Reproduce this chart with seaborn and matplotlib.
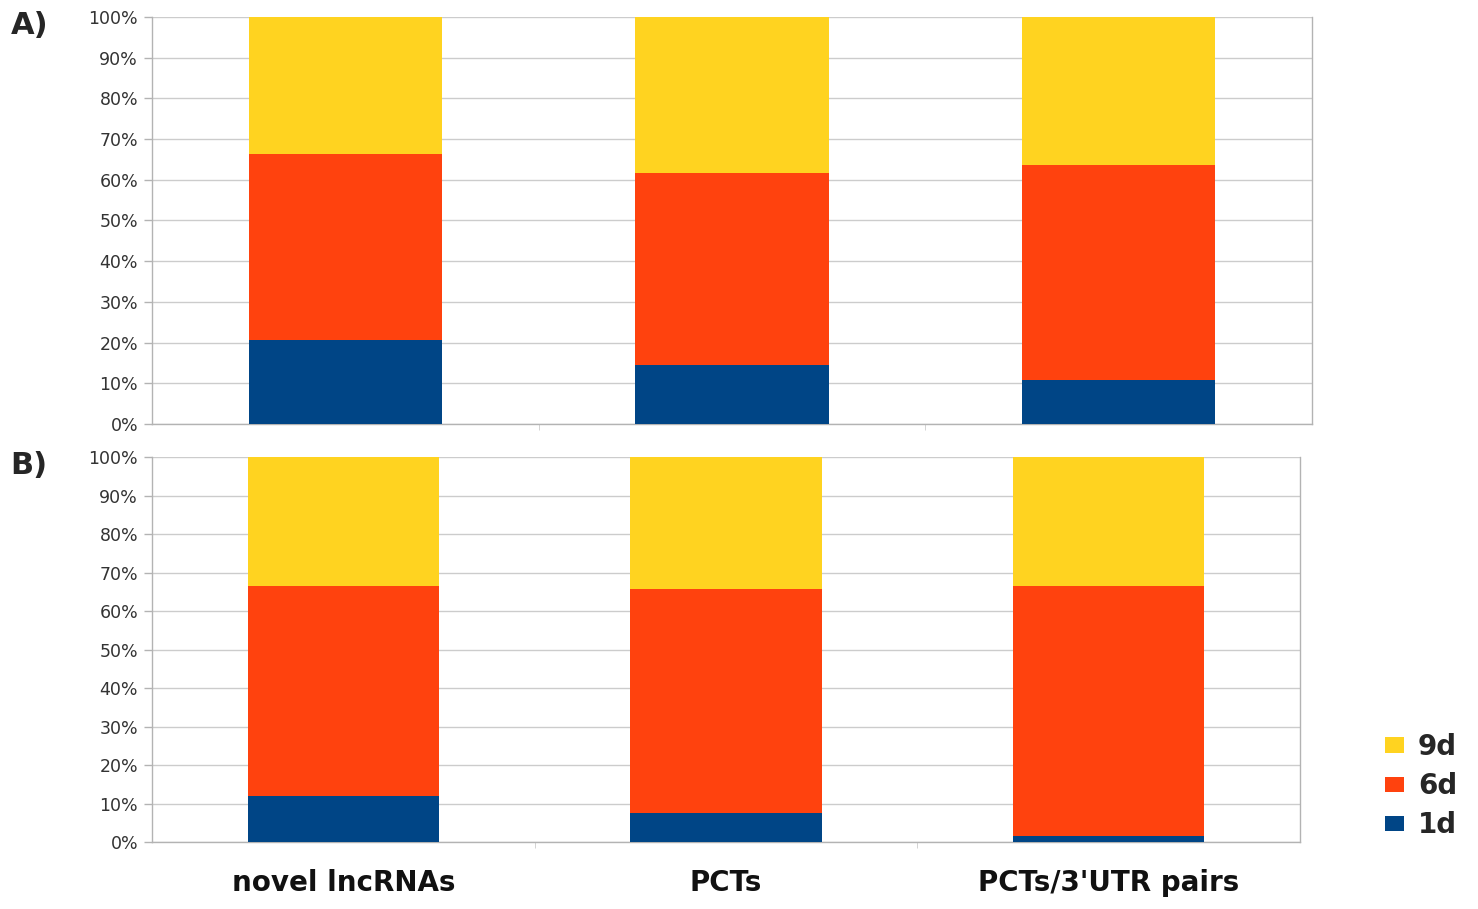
import matplotlib
matplotlib.use("Agg")
import matplotlib.pyplot as plt
from matplotlib.patches import Patch
from matplotlib.ticker import FixedLocator, PercentFormatter
import seaborn as sns
import pandas as pd

categories = ["novel lncRNAs", "PCTs", "PCTs/3'UTR pairs"]
series = ["1d", "6d", "9d"]

# percentage share of each time point, panel A
a_1d = [20.6, 14.5, 10.8]
a_6d = [45.7, 47.2, 52.8]
a_9d = [33.7, 38.3, 36.4]

# percentage share of each time point, panel B
b_1d = [11.9, 7.5, 1.6]
b_6d = [54.6, 58.2, 64.9]
b_9d = [33.5, 34.3, 33.5]

colors = {"1d": "#004586", "6d": "#FF420E", "9d": "#FFD320"}
yticks = list(range(0, 101, 10))

sns.set_style("white")
plt.rcParams["font.family"] = ["DejaVu Sans"]

fig = plt.figure(figsize=(14.78, 9.09), dpi=100)
ax_a = fig.add_axes([0.1028, 0.5336, 0.7849, 0.4477])
ax_b = fig.add_axes([0.1028, 0.0737, 0.7767, 0.4235])


def stacked(ax, v1, v6, v9):
    df = pd.DataFrame({"cat": categories, "1d": v1, "6d": v6, "9d": v9})
    df["top6"] = df["1d"] + df["6d"]
    df["top9"] = df["top6"] + df["9d"]
    # draw the cumulative heights from the tallest down so each layer shows
    for col, key in [("top9", "9d"), ("top6", "6d"), ("1d", "1d")]:
        sns.barplot(data=df, x="cat", y=col, color=colors[key], width=0.5,
                    saturation=1, ax=ax, linewidth=0, zorder=3)
    ax.set_ylim(0, 100)
    ax.set_xlim(-0.5, 2.5)
    ax.set_xlabel("")
    ax.set_ylabel("")
    ax.yaxis.set_major_locator(FixedLocator(yticks))
    ax.yaxis.set_major_formatter(PercentFormatter(decimals=0))
    ax.grid(axis="y", color="#cccccc", linewidth=1.0, zorder=0)
    ax.set_axisbelow(True)
    ax.tick_params(axis="y", left=True, length=6, width=1, color="#b3b3b3",
                   labelsize=12.5, labelcolor="#333333", pad=4)
    ax.xaxis.set_minor_locator(FixedLocator([0.5, 1.5]))
    ax.tick_params(axis="x", which="minor", bottom=True, length=4, color="#cccccc")
    ax.tick_params(axis="x", which="major", bottom=False)
    for s in ["left", "right", "bottom"]:
        ax.spines[s].set_visible(True)
        ax.spines[s].set_color("#b3b3b3")
        ax.spines[s].set_linewidth(1.0)
    ax.spines["top"].set_visible(False)


stacked(ax_a, a_1d, a_6d, a_9d)
stacked(ax_b, b_1d, b_6d, b_9d)

ax_a.set_xticklabels([])
ax_b.set_xticks(range(len(categories)))
ax_b.set_xticklabels(categories, fontsize=20, fontweight="bold",
                     family="DejaVu Sans", color="#111111")
ax_b.tick_params(axis="x", which="major", pad=16)

fig.text(0.007, 0.972, "A)", fontsize=22, fontweight="bold", va="center")
fig.text(0.007, 0.488, "B)", fontsize=22, fontweight="bold", va="center")

handles = [Patch(facecolor=colors[k], edgecolor="none", label=k) for k in ["9d", "6d", "1d"]]
fig.legend(handles=handles, loc="center left", bbox_to_anchor=(0.92, 0.135),
           frameon=False, prop={"size": 20, "weight": "bold"},
           handlelength=0.7, handleheight=0.5, handletextpad=0.5, labelspacing=0.4)

fig.savefig("out.png", dpi=100)
